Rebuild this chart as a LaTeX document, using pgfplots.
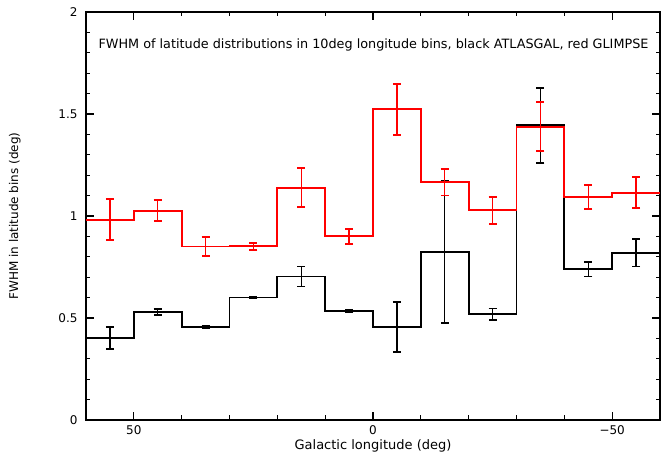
\documentclass[border=0pt]{standalone}
\usepackage{pgfplots}
\pgfplotsset{compat=1.18}
\usepackage{pgfplotstable}
\usepackage{fontspec}
\setmainfont{DejaVu Sans}

% bin edges (left edge in data order) and values
\pgfplotstableread{
x y
60 0.402
50 0.531
40 0.454
30 0.600
20 0.703
10 0.535
0 0.457
-10 0.825
-20 0.520
-30 1.445
-40 0.739
-50 0.817
-60 0.817
}\blackhist
\pgfplotstableread{
x y
60 0.980
50 1.026
40 0.850
30 0.854
20 1.139
10 0.902
0 1.523
-10 1.165
-20 1.029
-30 1.437
-40 1.093
-50 1.114
-60 1.114
}\redhist
% error bars at bin centres: x y ep em
\pgfplotstableread{
x y ep em
55 0.402 0.055 0.052
45 0.531 0.012 0.016
35 0.454 0.005 0.005
25 0.600 0.003 0.003
15 0.703 0.049 0.049
5 0.535 0.005 0.005
-5 0.457 0.123 0.125
-15 0.825 0.348 0.351
-25 0.520 0.027 0.030
-35 1.445 0.182 0.187
-45 0.739 0.034 0.036
-55 0.817 0.069 0.065
}\blackerr
\pgfplotstableread{
x y ep em
55 0.980 0.103 0.098
45 1.026 0.052 0.051
35 0.850 0.047 0.046
25 0.854 0.015 0.021
15 1.139 0.098 0.093
5 0.902 0.034 0.038
-5 1.523 0.124 0.126
-15 1.165 0.065 0.065
-25 1.029 0.066 0.067
-35 1.437 0.122 0.118
-45 1.093 0.057 0.057
-55 1.114 0.079 0.073
}\rederr

\begin{document}
\begin{tikzpicture}
\begin{axis}[
  at={(0,0)}, anchor=south west,
  scale only axis,
  width=574bp, height=408bp,
  xmin=-60, xmax=60, x dir=reverse,
  ymin=0, ymax=2,
  xtick={-50,0,50},
  xticklabels={−50,0,50},
  minor x tick num=4,
  ytick={0,0.5,1,1.5,2},
  yticklabels={0,0.5,1,1.5,2},
  minor y tick num=4,
  tick align=inside,
  major tick length=8bp,
  minor tick length=4.5bp,
  tick style={line width=1.2bp, black},
  axis line style={line width=1.8bp},
  ticklabel style={font=\fontsize{12bp}{14bp}\selectfont},
  xticklabel style={yshift=-2bp},
  yticklabel style={xshift=-5bp},
  xlabel={Galactic longitude (deg)},
  ylabel={FWHM in latitude bins (deg)},
  xlabel style={font=\fontsize{13bp}{15bp}\selectfont, yshift=2bp},
  ylabel style={font=\fontsize{12bp}{14bp}\selectfont, yshift=31bp},
  clip=false,
]
\addplot[const plot mark left, black, line width=1.8bp, mark=none] table[x=x,y=y] {\blackhist};
\addplot[draw=none, mark=none, black, line width=1.4bp,
  error bars/.cd, y dir=both, y explicit,
  error mark options={rotate=90, mark size=4bp, line width=1.8bp, black},
  error bar style={line width=1.4bp, black}]
  table[x=x,y=y,y error plus=ep,y error minus=em] {\blackerr};
\addplot[const plot mark left, red, line width=1.8bp, mark=none] table[x=x,y=y] {\redhist};
\addplot[draw=none, mark=none, red, line width=1.4bp,
  error bars/.cd, y dir=both, y explicit,
  error mark options={rotate=90, mark size=4bp, line width=1.8bp, red},
  error bar style={line width=1.4bp, red}]
  table[x=x,y=y,y error plus=ep,y error minus=em] {\rederr};
\node[font=\fontsize{12.8bp}{15bp}\selectfont] at (axis cs:-0.1,1.838)
  {FWHM of latitude distributions in 10deg longitude bins, black ATLASGAL, red GLIMPSE};
\end{axis}
\pgfresetboundingbox
\path (-86bp,-38bp) rectangle (576bp,420bp);
\end{tikzpicture}
\end{document}
